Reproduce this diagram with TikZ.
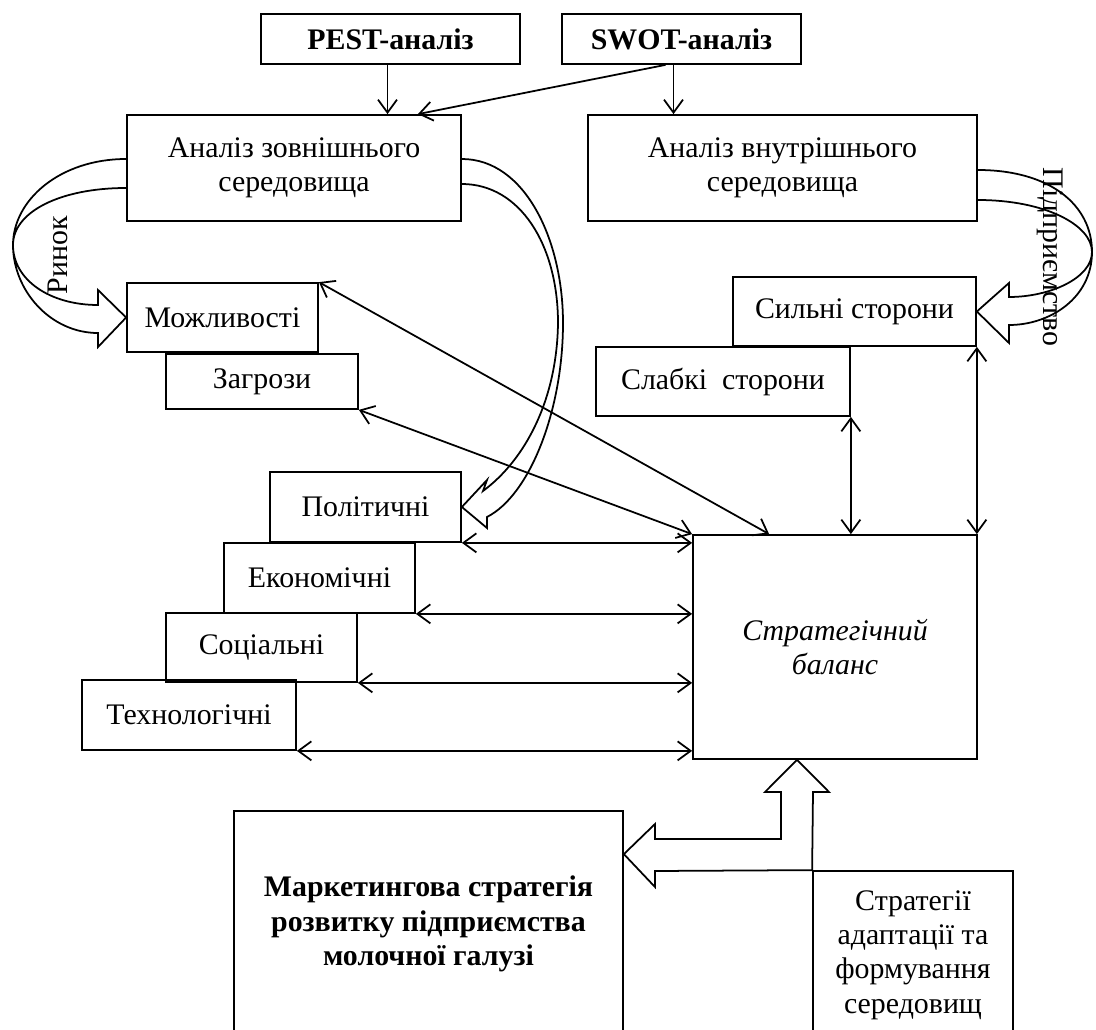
\documentclass[tikz,border=0pt]{standalone}
\usepackage{fontspec}
\setmainfont{Liberation Serif}
\usetikzlibrary{arrows.meta,calc}

\begin{document}
\begin{tikzpicture}[line width=1pt,
    >={Straight Barb[length=2.6mm,width=3.8mm]},
    box/.style={draw, align=center, inner sep=0pt, font=\fontsize{17}{19.5}\selectfont},
    boxsize/.style 2 args={minimum width=#1*\x cm, minimum height=#2*\x cm},
    lbl/.style={inner sep=0pt, font=\fontsize{17}{19.5}\selectfont}]
    \def\x{0.02}
    \def\y{-0.02}
    \useasboundingbox (0,0) rectangle (1096*\x, 1030*\y);
    \clip (0,0) rectangle (1096*\x, 1030*\y);
    \node[box, boxsize={259}{50}] (A0_0) at (390.5*\x, 39*\y) {\textbf{PEST-аналіз}};
    \node[box, boxsize={239}{50}] (A0_1) at (681.5*\x, 39*\y) {\textbf{SWOT-аналіз}};
    \node[box, boxsize={334}{106}] (A1_0) at (294*\x, 168*\y) {Аналіз зовнішнього\\середовища};
    \node[box, boxsize={389}{106}] (A1_1) at (782.5*\x, 168*\y) {Аналіз внутрішнього\\середовища};
    \node[box, boxsize={191}{69}] (A2_0) at (222.5*\x, 317.5*\y) {Можливості};
    \node[box, boxsize={192}{55}] (A3_0) at (262*\x, 381.5*\y) {Загрози};
    \node[box, boxsize={243}{69}] (A2_1) at (854.5*\x, 311.5*\y) {Сильні сторони};
    \node[box, boxsize={254}{69}] (A3_1) at (723*\x, 381.5*\y) {Слабкі~ сторони};
    \node[box, boxsize={191}{70}] (A4_0) at (365.5*\x, 507*\y) {Політичні};
    \node[box, boxsize={191}{70}] (A5_0) at (319.5*\x, 578*\y) {Економічні};
    \node[box, boxsize={191}{69}] (A6_0) at (261.5*\x, 647.5*\y) {Соціальні};
    \node[box, boxsize={214}{70}] (A7_0) at (189*\x, 715*\y) {Технологічні};
    \node[box, boxsize={284}{224}, font=\fontsize{17}{19.5}\selectfont\itshape] (A4_1) at (835*\x, 647*\y) {Стратегічний\\баланс};
    \node[box, boxsize={389}{226}, font=\fontsize{17}{19.5}\selectfont\bfseries] (A8_0) at (428.5*\x, 924*\y) {Маркетингова стратегія\\розвитку підприємства\\молочної галузі};
    \node[box, boxsize={200}{168}] (A8_1) at (913*\x, 955*\y) {Стратегії\\адаптації та\\формування\\середовищ};
    \node[lbl, rotate=90] (L0) at (58*\x, 255*\y) {Ринок};
    \node[lbl, rotate=-90] (L1) at (1050*\x, 257*\y) {Підприємство};
    \path ($(A0_0.south)+(-3*\x,0)$) edge [->] ($(A0_0.south |- A1_0.north)+(-3*\x,0)$);
    \path ($(A0_1.south)+(-8*\x,0)$) edge [->] ($(A0_1.south |- A1_1.north)+(-8*\x,0)$);
    \path ($(A0_1.south)+(-16*\x,0)$) edge [->] ($(A1_0.north east)+(-44*\x,0)$);
    \path (A2_0.north east) edge [<->] ($(A4_1.north west)+(77*\x,0)$);
    \path (A3_0.south east) edge [<->] (A4_1.north west);
    \path (A3_1.south east) edge [<->] (A3_1.south east |- A4_1.north);
    \path (A2_1.south east) edge [<->] (A2_1.south east |- A4_1.north);
    \path (A4_0.south east) edge [<->] (A4_0.south east -| A4_1.west);
    \path (A5_0.south east) edge [<->] (A5_0.south east -| A4_1.west);
    \path (A6_0.south east) edge [<->] (A6_0.south east -| A4_1.west);
    \path (A7_0.south east) edge [<->] (A7_0.south east -| A4_1.west);
    \draw ($(A1_0.west)+(0,-9*\y)$) .. controls (60*\x,159*\y) and (13*\x,200*\y) .. (13*\x,245*\y)
      .. controls (13*\x,290*\y) and (50*\x,333*\y) .. (98*\x,333*\y)
      -- (98*\x,347*\y) -- (A2_0.west) -- (98*\x,290*\y) -- (98*\x,305*\y)
      .. controls (50*\x,305*\y) and (13*\x,280*\y) .. (13*\x,245*\y)
      .. controls (13*\x,212*\y) and (60*\x,188*\y) .. ($(A1_0.west)+(0,20*\y)$);
    \draw ($(A1_1.east)+(0,2*\y)$) .. controls (1050*\x,170*\y) and (1092*\x,205*\y) .. (1092*\x,252*\y)
      .. controls (1092*\x,298*\y) and (1050*\x,325*\y) .. (1009*\x,325*\y)
      -- (1009*\x,343*\y) -- (A2_1.east) -- (1009*\x,283*\y) -- (1009*\x,297*\y)
      .. controls (1050*\x,297*\y) and (1092*\x,278*\y) .. (1092*\x,252*\y)
      .. controls (1092*\x,225*\y) and (1045*\x,200*\y) .. ($(A1_1.east)+(0,32*\y)$);
    \draw ($(A1_0.east)+(0,-9*\y)$) .. controls (525*\x,159*\y) and (563*\x,240*\y) .. (563*\x,323*\y)
      .. controls (563*\x,410*\y) and (530*\x,495*\y) .. (487*\x,517*\y)
      -- (487*\x,528*\y) -- (A4_0.east) -- (487*\x,480*\y) -- (483*\x,491*\y)
      .. controls (525*\x,460*\y) and (557*\x,400*\y) .. (558*\x,323*\y)
      .. controls (558*\x,245*\y) and (520*\x,184*\y) .. ($(A1_0.east)+(0,16*\y)$);
    \draw (781*\x,839*\y) -- (781*\x,792*\y) -- (765*\x,792*\y) -- ($(A4_1.south)+(-38*\x,0)$)
      -- (829*\x,792*\y) -- (813*\x,792*\y) -- (A8_1.north west) -- (655*\x,871*\y)
      -- (655*\x,887*\y) -- ($(A8_0.north east)+(0,44*\y)$) -- (655*\x,824*\y)
      -- (655*\x,839*\y) -- cycle;
  \end{tikzpicture}
\end{document}
